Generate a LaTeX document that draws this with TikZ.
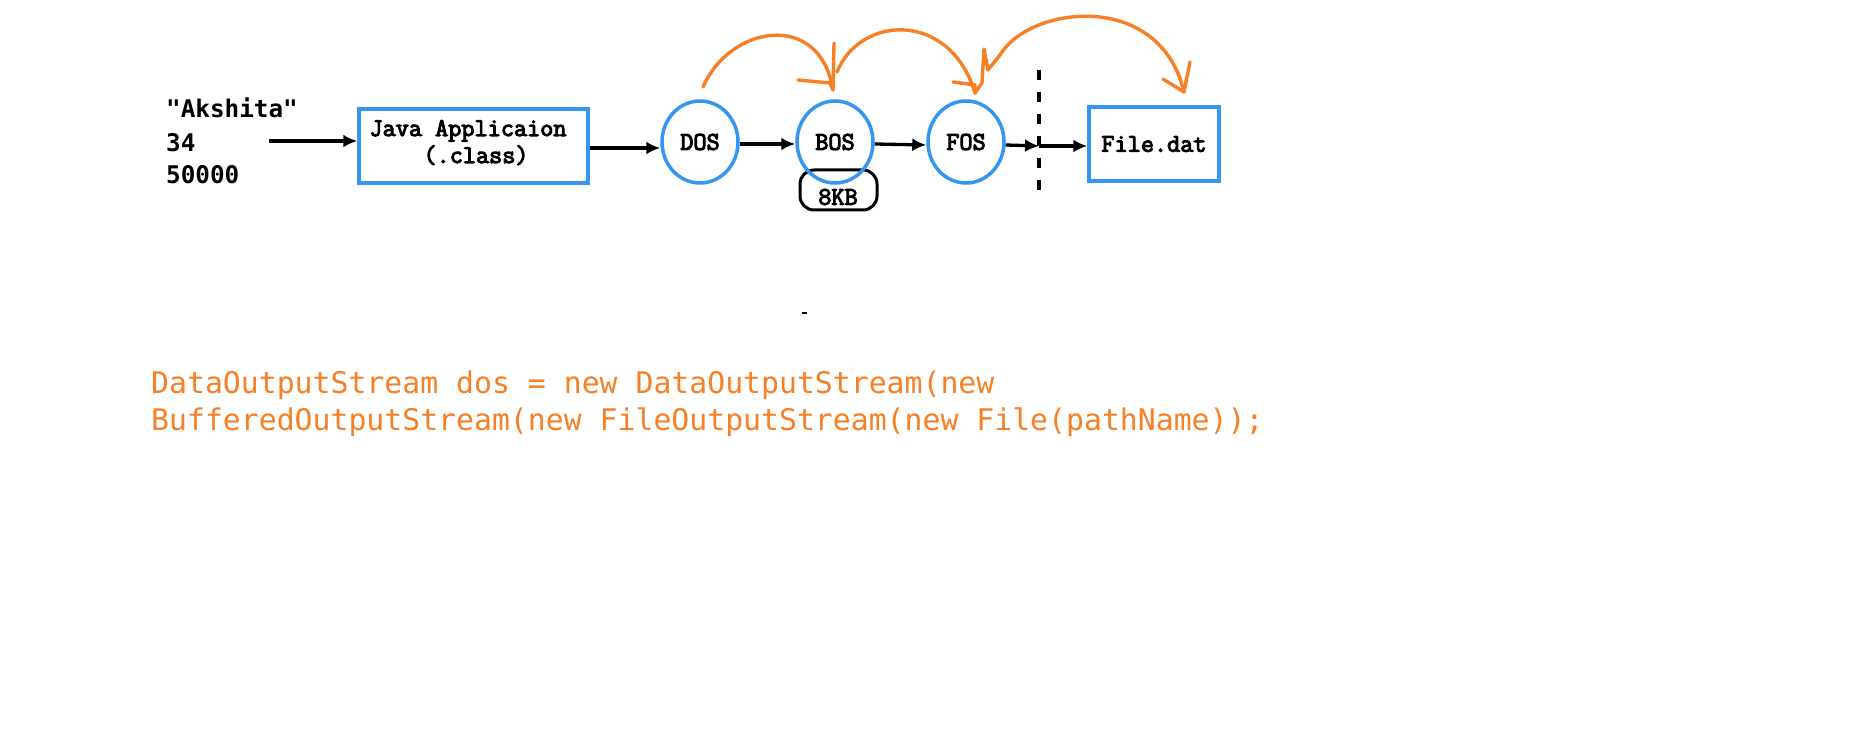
\documentclass[tikz,border=0pt]{standalone}
\usepackage{fontspec}
\usetikzlibrary{arrows.meta,shapes.geometric,calc}
\newfontfamily\codefont{DejaVu Sans Mono}
\newfontfamily\labfont[FakeBold=4]{Latin Modern Mono}
\definecolor{bblue}{RGB}{52,150,240}
\definecolor{oorange}{RGB}{247,128,38}
\tikzset{
  bluebox/.style={draw=bblue, line width=3.5pt, rectangle, inner sep=0pt},
  blueell/.style={draw=bblue, line width=3.5pt, ellipse, inner sep=0pt, minimum width=76pt, minimum height=82pt},
  lab/.style={font=\labfont\fontsize{25.5}{27}\selectfont, text=black},
  inp/.style={font=\codefont\bfseries\fontsize{24.3}{28}\selectfont, anchor=base west, inner sep=0pt},
  arr/.style={draw=black, line width=3.3pt, -{Latex[length=14pt,width=13pt]}},
  hand/.style={draw=oorange, line width=3.4pt, line cap=round, line join=round},
}
\begin{document}
\begin{tikzpicture}[x=1pt,y=-1pt]
\fill[white] (0,0) rectangle (1852,743);
\useasboundingbox (0,0) rectangle (1852,743);

% input values
\node[inp] (v1) at (166,118) {"Akshita"};
\node[inp] (v2) at (166,152) {34};
\node[inp] (v3) at (166,184) {50000};
\coordinate (inStart) at (269,141);

% boxes and circles
\node[bluebox, minimum width=229pt, minimum height=74pt] (java) at (473.5,146) {};
\node[lab, anchor=base, inner sep=0pt] (jt1) at (468,136) {Java Applicaion};
\node[lab, anchor=base, inner sep=0pt] (jt2) at (476,163) {(.class)};
\node[blueell, lab] (dos) at (700,142) {DOS};
\node[draw=black, line width=3pt, rounded corners=14pt, minimum width=77pt, minimum height=40pt, inner sep=0pt] (kb) at (838.5,190) {};
\node[blueell, lab] (bos) at (835,142) {BOS};
\node[lab, inner sep=0pt] (kbtext) at (838,197) {8KB};
\node[blueell, lab] (fos) at (966,142) {FOS};
\node[bluebox, minimum width=130pt, minimum height=74pt, lab] (file) at (1154,144) {File.dat};

% dashed divider
\coordinate (dtop) at (1039,70);
\coordinate (dbot) at (1039,195);
\coordinate (dmid) at (1039,146);
\draw[line width=3.5pt, dash pattern=on 10pt off 12pt] (dtop) -- (dbot);

% connectors
\draw[arr] (inStart) -- (java.west |- inStart);
\draw[arr] ([yshift=-2pt]java.east) -- ([yshift=-2pt]java.east -| dos.west);
\draw[arr] ([yshift=-2pt]dos.east) -- ([yshift=-2pt]bos.west);
\draw[arr] ([yshift=-2pt]bos.east) -- ([yshift=-3pt]fos.west);
\draw[arr] ([yshift=-3pt]fos.east) -- (dmid);
\draw[arr] (dmid) -- (file.west |- dmid);

% hand-drawn orange arcs
\coordinate (a1s) at (703,87);
\coordinate (a1e) at (833,90);
\draw[hand] (a1s) .. controls (730,25) and (820,10) .. (a1e);
\draw[hand] (834,43) -- (a1e) -- (830,83) -- (798,80);
\coordinate (a2s) at (837,72);
\coordinate (a2e) at (975,93);
\draw[hand] (a2s) .. controls (860,15) and (950,10) .. (a2e);
\draw[hand] (953,82) -- (975,85) -- (a2e) -- (982,83) -- (984,49) -- (988,70) -- (1000,55);
\coordinate (a3s) at (1000,55);
\coordinate (a3e) at (1184,92);
\draw[hand] (a3s) .. controls (1030,5) and (1160,-10) .. (a3e);
\draw[hand] (1163,79) -- (a3e) -- (1190,62);

% tiny mark
\draw[line width=1.5pt] (802,313) -- (807,313);

% code
\node[anchor=west, align=left, inner sep=0pt, text=oorange, font=\codefont\fontsize{29.8}{37}\selectfont] (code) at (151,403.5) {DataOutputStream dos = new DataOutputStream(new\\BufferedOutputStream(new FileOutputStream(new File(pathName));};
\end{tikzpicture}
\end{document}
